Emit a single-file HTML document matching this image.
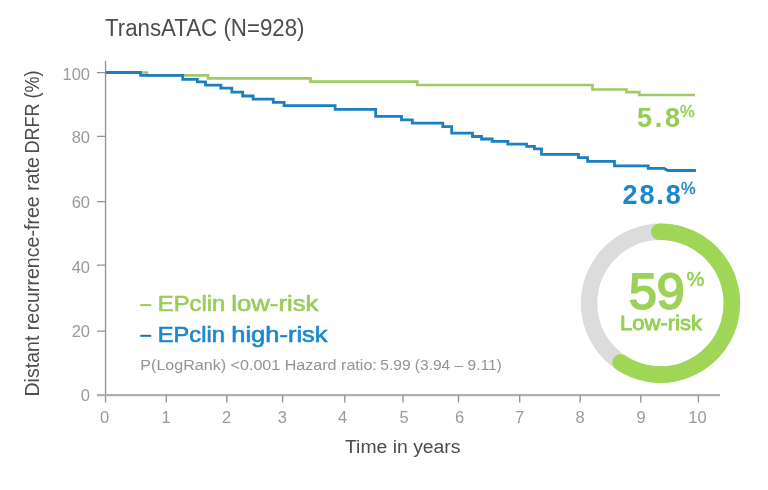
<!DOCTYPE html>
<html><head><meta charset="utf-8">
<style>
html,body{margin:0;padding:0;background:#fff;}
body{width:768px;height:490px;overflow:hidden;}
svg{display:block;}
text{font-family:"Liberation Sans",Arial,sans-serif;}
</style></head>
<body>
<svg width="768" height="490" viewBox="0 0 768 490">
<rect width="768" height="490" fill="#fff"/>
<!-- title -->
<text x="105" y="36" font-size="23" fill="#4d4d4d" textLength="199.5" lengthAdjust="spacingAndGlyphs">TransATAC (N=928)</text>
<!-- y axis label -->
<g transform="translate(39.3,396) rotate(-90)" font-size="19.6" fill="#4d4d4d">
<text x="-0.6" y="0" textLength="239.5" lengthAdjust="spacingAndGlyphs">Distant recurrence-free rate</text>
<text x="242.5" y="0" textLength="83" lengthAdjust="spacingAndGlyphs">DRFR (%)</text>
</g>
<!-- axes -->
<g stroke="#939393" stroke-width="1.35" fill="none">
<path d="M105.55 60.8V402.5"/>
<path stroke="#b0b0b0" stroke-width="2.2" d="M97 395.1H720"/>
<path stroke-width="1.25" d="M97 72.5H105.5M97 136.4H105.5M97 201.5H105.5M97 265.2H105.5M97 331H105.5"/>
<path stroke="#939393" d="M166.3 395V402.6M226.8 395V402.6M282.6 395V402.6M344.8 395V402.6M403 395V402.6M458.5 395V402.6M519.7 395V402.6M580.2 395V402.6M640.8 395V402.6M698.4 395V402.6"/>
</g>
<!-- y tick labels -->
<g font-size="16.5" fill="#9a9a9a" text-anchor="end">
<text x="90" y="79.5">100</text>
<text x="90" y="143.4">80</text>
<text x="90" y="208">60</text>
<text x="90" y="272.8">40</text>
<text x="90" y="336.7">20</text>
<text x="90" y="400.8">0</text>
</g>
<!-- x tick labels -->
<g font-size="16.5" fill="#9a9a9a" text-anchor="middle">
<text x="104.6" y="423">0</text>
<text x="166.0" y="423">1</text>
<text x="226.7" y="423">2</text>
<text x="282.4" y="423">3</text>
<text x="342.6" y="423">4</text>
<text x="404" y="423">5</text>
<text x="459.5" y="423">6</text>
<text x="519.5" y="423">7</text>
<text x="580.1" y="423">8</text>
<text x="641.2" y="423">9</text>
<text x="697.4" y="423">10</text>
</g>
<!-- x axis label -->
<text x="345" y="452.8" font-size="18" fill="#4d4d4d" textLength="115.5" lengthAdjust="spacingAndGlyphs">Time in years</text>
<!-- curves -->
<path fill="none" stroke="#a2ca64" stroke-width="2.7" d="M105.5 72.5H147V75.4H208V78.3H310.5V81.6H417.2V85H592.5V89.5H626.5V92.2H639.3V95H695"/>
<path fill="none" stroke="#1b7fc1" stroke-width="2.8" d="M105.5 72.5H140.5V75.4H182.7V79.3H197.3V81.9H205.5V85.1H220.8V88.2H231.8V92.2H242.7V96H253.1V99.2H273.3V102.4H284.1V105.6H335.1V109.3H375.7V116.4H401.5V119.8H412.3V123.2H442.8V126.6H451.7V133.1H472.5V136.5H481.5V139H492.2V141.4H507.8V144.2H526.6V146.3H534.4V148.8H541.5V154.3H578.5V157.6H587.6V161.3H614.5V165.8H648.2V168.4H664L668 170.5H695.9"/>
<!-- end labels -->
<text x="637" y="127.3" font-size="27" font-weight="bold" fill="#96cc55" letter-spacing="2.8">5.8</text>
<text x="680" y="117" font-size="16.5" fill="#96cc55" stroke="#96cc55" stroke-width="0.4">%</text>
<text x="622.5" y="204.3" font-size="27" font-weight="bold" fill="#1b87cc" letter-spacing="1.9">28.8</text>
<text x="681" y="194.3" font-size="16.5" fill="#1b87cc" stroke="#1b87cc" stroke-width="0.4">%</text>
<!-- legend -->
<rect x="140.2" y="304.1" width="11" height="2" fill="#9ccb5c"/>
<g font-size="21.5" fill="#9ccb5c" stroke="#9ccb5c" stroke-width="0.6">
<text x="157.8" y="311.2" textLength="67.5" lengthAdjust="spacingAndGlyphs">EPclin</text>
<text x="231.2" y="311.2" textLength="87.3" lengthAdjust="spacingAndGlyphs">low-risk</text>
</g>
<rect x="140.2" y="334.8" width="11" height="2" fill="#1b78b4"/>
<g font-size="21.5" fill="#1b87cc" stroke="#1b87cc" stroke-width="0.6">
<text x="157.8" y="341.8" textLength="67" lengthAdjust="spacingAndGlyphs">EPclin</text>
<text x="231.3" y="341.8" textLength="96.2" lengthAdjust="spacingAndGlyphs">high-risk</text>
</g>
<g font-size="15.3" fill="#939393">
<text x="140.3" y="370.3" textLength="236.5" lengthAdjust="spacingAndGlyphs">P(LogRank) &lt;0.001 Hazard ratio:</text>
<text x="380.3" y="370.3" textLength="121.5" lengthAdjust="spacingAndGlyphs">5.99 (3.94 – 9.11)</text>
</g>
<!-- donut -->
<circle cx="660.5" cy="303.2" r="71.4" fill="none" stroke="#dcdcdc" stroke-width="16.5"/>
<path fill="none" stroke="#a0d656" stroke-width="16.5" stroke-linecap="round" d="M659.25 231.81A71.4 71.4 0 1 1 620.57 362.39"/>
<text x="629" y="309" font-size="50" fill="#9cd257" stroke="#9cd257" stroke-width="1.9">59</text>
<text x="686.5" y="286" font-size="20" fill="#92d050" stroke="#92d050" stroke-width="0.5">%</text>
<text x="620" y="330.2" font-size="20.5" fill="#92d050" stroke="#92d050" stroke-width="0.8" textLength="82" lengthAdjust="spacingAndGlyphs">Low-risk</text>
</svg>
</body></html>
